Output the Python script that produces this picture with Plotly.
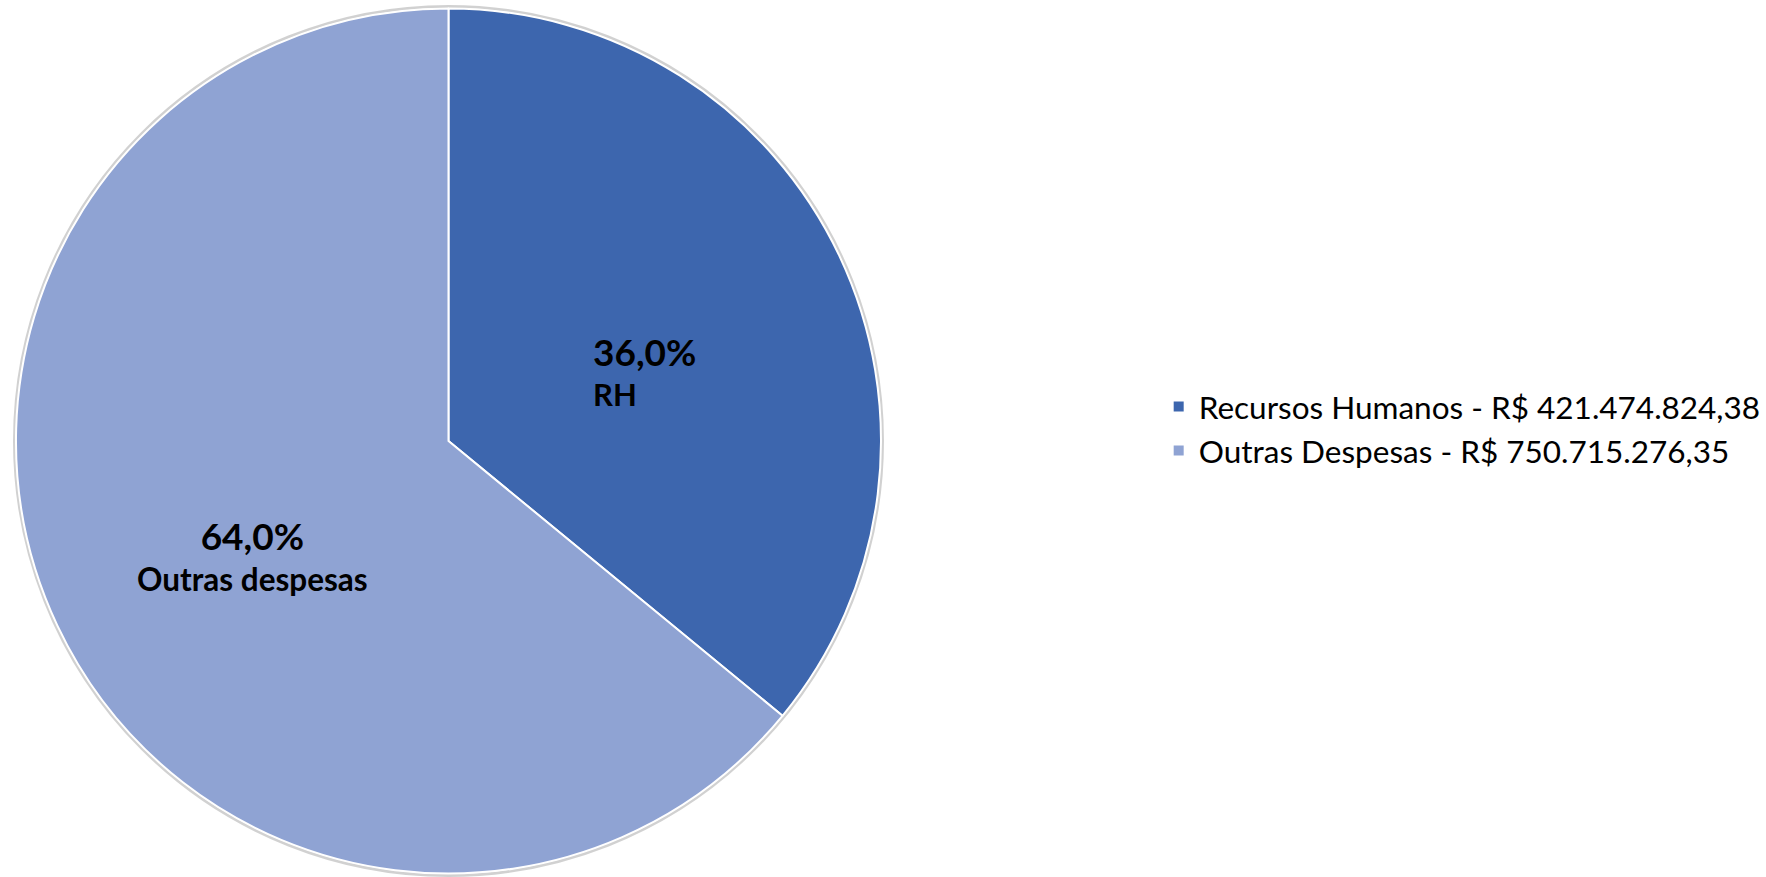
import math
import plotly.graph_objects as go

# ---- data ----
categories = ["Recursos Humanos", "Outras Despesas"]
short_labels = ["RH", "Outras despesas"]
values = [421474824.38, 750715276.35]
colors = ["#3D66AE", "#8FA3D3"]

W, H = 1766, 877
FONT = "Lato"


def brl(v):
    s = f"{v:,.2f}"
    return s.replace(",", "X").replace(".", ",").replace("X", ".")


def pct(v):
    return f"{v * 100:.1f}".replace(".", ",") + "%"


legend_names = [f"{c} - R$ {brl(v)}" for c, v in zip(categories, values)]
total = sum(values)
fracs = [v / total for v in values]

dom_x = [16 / W, 882 / W]
dom_y = [3 / H, 869 / H]

fig = go.Figure(
    go.Pie(
        labels=legend_names,
        values=values,
        sort=False,
        direction="clockwise",
        rotation=0,
        marker=dict(colors=colors, line=dict(color="white", width=2)),
        textinfo="none",
        hoverinfo="label+percent",
        domain=dict(x=dom_x, y=dom_y),
    )
)

# geometry of the pie in pixels (for label placement)
cx = (dom_x[0] + dom_x[1]) / 2 * W
cy = (1 - (dom_y[0] + dom_y[1]) / 2) * H
r = min((dom_x[1] - dom_x[0]) * W, (dom_y[1] - dom_y[0]) * H) / 2

# soft shadow ring behind the pie
fig.add_shape(
    type="circle", xref="paper", yref="paper", layer="below",
    x0=(cx - r - 1.5) / W, x1=(cx + r + 1.5) / W,
    y0=1 - (cy + r + 1.5) / H, y1=1 - (cy - r - 1.5) / H,
    line=dict(color="rgba(0,0,0,0.18)", width=3),
)

cum = 0.0
aligns = ["left", "center"]
for i, f in enumerate(fracs):
    mid = (cum + f / 2) * 2 * math.pi
    cum += f
    px = cx + 0.5 * r * math.sin(mid)
    py = cy - 0.5 * r * math.cos(mid) + 22
    fig.add_annotation(
        x=px / W, y=1 - py / H, xref="paper", yref="paper",
        text=f"<b><span style='font-size:37px'>{pct(f)}</span><br>{short_labels[i]}</b>",
        showarrow=False, align=aligns[i], xanchor="center", yanchor="middle",
        font=dict(family=FONT, size=31.5 if i == 1 else 31, color="black"),
    )

fig.update_layout(
    width=W, height=H,
    margin=dict(l=0, r=0, t=0, b=0),
    paper_bgcolor="white", plot_bgcolor="white",
    showlegend=True,
    legend=dict(
        x=1160 / W, y=1 - 428.5 / H, xanchor="left", yanchor="middle",
        font=dict(family=FONT, size=31.5, color="black"),
        bgcolor="rgba(0,0,0,0)", traceorder="normal",
    ),
)

fig.write_html(
    "out.html",
    config={"displayModeBar": False},
    post_script="document.body.style.margin='0';document.body.style.overflow='hidden';",
)
